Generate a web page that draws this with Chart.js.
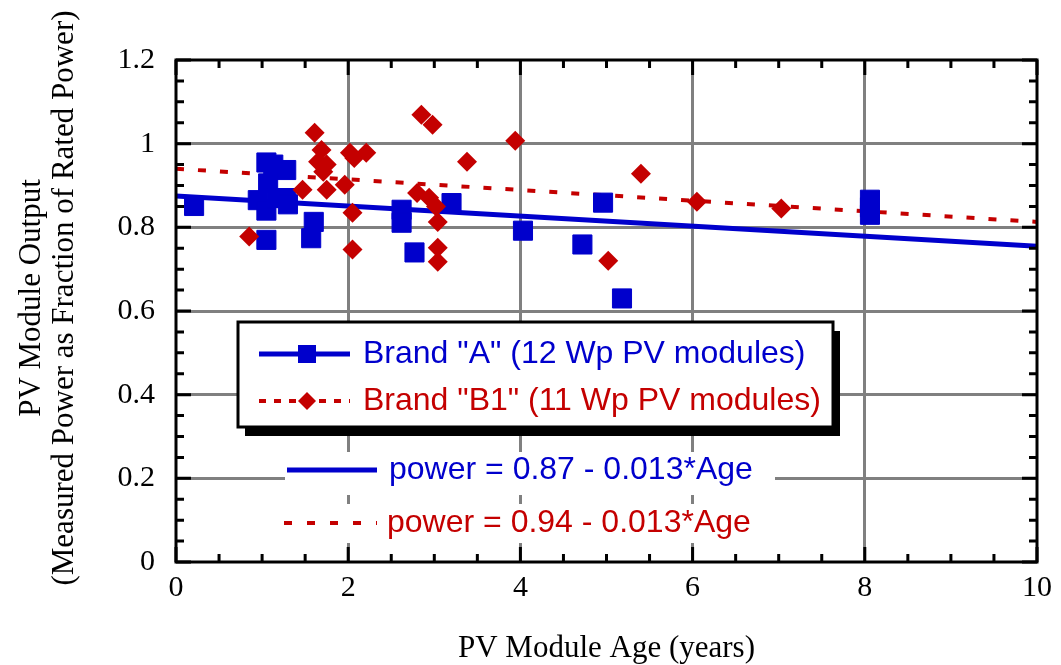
<!DOCTYPE html>
<html>
<head>
<meta charset="utf-8">
<script src="https://cdn.jsdelivr.net/npm/chart.js@4.4.0/dist/chart.umd.min.js"></script>
<style>
  html, body { margin: 0; padding: 0; background: #fff; }
  canvas { display: block; }
</style>
</head>
<body>
<canvas id="ageChart" width="1061" height="665"></canvas>
<script>
// Brand "A" measurements (age in years, output fraction)
const ageA = [0.21, 0.95, 1.05, 1.13, 1.28, 1.07, 1.05, 1.17, 1.28, 1.3, 1.05, 1.6, 1.57,
              2.62, 2.62, 2.77, 3.2, 4.03, 4.72, 4.96, 5.18, 8.06, 8.06, 8.06];
const powerA = [0.851, 0.865, 0.955, 0.95, 0.937, 0.905, 0.84, 0.87, 0.87, 0.855, 0.77, 0.813, 0.774,
                0.842, 0.811, 0.74, 0.858, 0.792, 0.759, 0.859, 0.63, 0.866, 0.848, 0.83];

// Brand "B1" measurements
const ageB1 = [0.85, 1.47, 1.61, 1.69, 1.65, 1.75, 1.71, 1.75, 1.96, 2.02, 2.07, 2.21, 2.05, 2.05,
               2.85, 2.98, 2.8, 2.94, 3.02, 3.04, 3.04, 3.04, 3.38, 3.94, 5.02, 5.4, 6.05, 7.03];
const powerB1 = [0.778, 0.89, 1.026, 0.985, 0.957, 0.95, 0.933, 0.89, 0.902, 0.978, 0.966, 0.978, 0.835, 0.747,
                 1.069, 1.045, 0.882, 0.871, 0.85, 0.813, 0.751, 0.718, 0.957, 1.007, 0.72, 0.928, 0.861, 0.845];

// regression lines (end points)
const fitAge = [0, 10];
const fitA = [0.875, 0.755];
const fitB1 = [0.94, 0.813];

const legendLabels = ['Brand "A" (12 Wp PV modules)', 'Brand "B1" (11 Wp PV modules)'];
const fitLabels = ['power = 0.87 - 0.013*Age', 'power = 0.94 - 0.013*Age'];
const yTitle = ['PV Module Output', '(Measured Power as Fraction of Rated Power)'];
const xTitle = 'PV Module Age (years)';

const BLUE = '#0000cc';
const RED = '#c40000';
const GRID = '#808080';

function toPoints(xs, ys) {
    return xs.map((x, i) => ({ x: x, y: ys[i] }));
}

// frame with inward ticks
const frameTicks = {
    id: 'frameTicks',
    afterDatasetsDraw(chart) {
        const { ctx, chartArea: a, scales: { x, y } } = chart;
        ctx.save();
        ctx.strokeStyle = '#000';
        ctx.lineWidth = 3;
        ctx.beginPath();
        for (let k = 0; k <= 20; k++) {
            const px = x.getPixelForValue(k * 0.5);
            const len = k % 4 === 0 ? 15 : 8;
            ctx.moveTo(px, a.bottom); ctx.lineTo(px, a.bottom - len);
            ctx.moveTo(px, a.top); ctx.lineTo(px, a.top + len);
        }
        for (let k = 0; k <= 24; k++) {
            const py = y.getPixelForValue(k * 0.05);
            const len = k % 4 === 0 ? 15 : 8;
            ctx.moveTo(a.left, py); ctx.lineTo(a.left + len, py);
            ctx.moveTo(a.right, py); ctx.lineTo(a.right - len, py);
        }
        ctx.stroke();
        ctx.strokeRect(a.left, a.top, a.right - a.left, a.bottom - a.top);
        ctx.restore();
    }
};

// legend box, fit equations and y title
const annotations = {
    id: 'annotations',
    afterDraw(chart) {
        const ctx = chart.ctx;
        ctx.save();

        // legend box with shadow
        const bx = 238, by = 322, bw = 595, bh = 105;
        ctx.fillStyle = '#000';
        ctx.fillRect(bx + 7, by + 9, bw, bh);
        ctx.fillStyle = '#fff';
        ctx.fillRect(bx, by, bw, bh);
        ctx.strokeStyle = '#000';
        ctx.lineWidth = 3;
        ctx.strokeRect(bx, by, bw, bh);

        ctx.font = '32px "Liberation Sans", Arial, sans-serif';
        ctx.textBaseline = 'middle';
        ctx.textAlign = 'left';

        // row 1
        ctx.strokeStyle = BLUE;
        ctx.lineWidth = 5;
        ctx.beginPath(); ctx.moveTo(259, 354); ctx.lineTo(350, 354); ctx.stroke();
        ctx.fillStyle = BLUE;
        ctx.fillRect(298, 345, 18, 18);
        ctx.fillText(legendLabels[0], 363, 354);

        // row 2
        ctx.strokeStyle = RED;
        ctx.lineWidth = 4;
        ctx.setLineDash([7, 8]);
        ctx.beginPath(); ctx.moveTo(259, 401); ctx.lineTo(350, 401); ctx.stroke();
        ctx.setLineDash([]);
        ctx.fillStyle = RED;
        ctx.beginPath();
        ctx.moveTo(307, 392); ctx.lineTo(316, 401); ctx.lineTo(307, 410); ctx.lineTo(298, 401);
        ctx.closePath(); ctx.fill();
        ctx.fillText(legendLabels[1], 363, 401);

        // equations
        ctx.font = '32px "Liberation Sans", Arial, sans-serif';
        ctx.fillStyle = '#fff';
        ctx.fillRect(285, 452, 490, 43);
        ctx.fillRect(281, 504, 494, 39);

        ctx.strokeStyle = BLUE;
        ctx.lineWidth = 5;
        ctx.beginPath(); ctx.moveTo(287, 470); ctx.lineTo(377, 470); ctx.stroke();
        ctx.fillStyle = BLUE;
        ctx.fillText(fitLabels[0], 389, 470);

        ctx.strokeStyle = RED;
        ctx.lineWidth = 4;
        ctx.setLineDash([8, 15]);
        ctx.beginPath(); ctx.moveTo(284, 523); ctx.lineTo(377, 523); ctx.stroke();
        ctx.setLineDash([]);
        ctx.fillStyle = RED;
        ctx.fillText(fitLabels[1], 387, 523);

        // y title, two rotated lines
        ctx.fillStyle = '#000';
        ctx.font = '31px "Liberation Serif", "Times New Roman", serif';
        ctx.textAlign = 'center';
        ctx.translate(0, 298);
        ctx.rotate(-Math.PI / 2);
        ctx.fillText(yTitle[0], 0, 32);
        ctx.fillText(yTitle[1], 0, 65);
        ctx.restore();
    }
};

function gridColor(ctx, max) {
    const v = ctx.tick.value;
    return (v < 1e-6 || v > max - 1e-6) ? 'rgba(0,0,0,0)' : GRID;
}

const ctx = document.getElementById('ageChart').getContext('2d');
new Chart(ctx, {
    type: 'scatter',
    data: {
        datasets: [
            {
                label: 'Brand "B1"',
                data: toPoints(ageB1, powerB1),
                pointStyle: 'rectRot',
                pointRadius: 10,
                backgroundColor: RED,
                borderColor: RED,
                borderWidth: 0,
                order: 0
            },
            {
                label: 'Brand "A"',
                data: toPoints(ageA, powerA),
                pointStyle: 'rect',
                pointRadius: 13.5,
                backgroundColor: BLUE,
                borderColor: BLUE,
                borderWidth: 1,
                order: 1
            },
            {
                label: 'fit A',
                data: toPoints(fitAge, fitA),
                showLine: true,
                pointRadius: 0,
                borderColor: BLUE,
                borderWidth: 5,
                order: 2
            },
            {
                label: 'fit B1',
                data: toPoints(fitAge, fitB1),
                showLine: true,
                pointRadius: 0,
                borderColor: RED,
                borderWidth: 4,
                borderDash: [8, 14],
                order: 3
            }
        ]
    },
    options: {
        responsive: false,
        devicePixelRatio: 1,
        animation: false,
        events: [],
        layout: { padding: { top: 60, right: 24, left: 0, bottom: 0 } },
        plugins: {
            legend: { display: false },
            tooltip: { enabled: false }
        },
        scales: {
            x: {
                type: 'linear',
                min: 0,
                max: 10,
                afterFit: s => { s.height = 103; },
                border: { display: false },
                grid: {
                    color: c => gridColor(c, 10),
                    lineWidth: 3,
                    drawTicks: false
                },
                ticks: {
                    stepSize: 2,
                    padding: 8,
                    color: '#000',
                    font: { family: '"Liberation Serif", "Times New Roman", serif', size: 30 },
                    callback: v => String(v)
                },
                title: {
                    display: true,
                    text: xTitle,
                    color: '#000',
                    padding: { top: 0, bottom: -2 },
                    font: { family: '"Liberation Serif", "Times New Roman", serif', size: 31 }
                }
            },
            y: {
                type: 'linear',
                min: 0,
                max: 1.2,
                afterFit: s => { s.width = 176; },
                border: { display: false },
                grid: {
                    color: c => gridColor(c, 1.2),
                    lineWidth: 3,
                    drawTicks: false
                },
                ticks: {
                    stepSize: 0.2,
                    padding: 21,
                    color: '#000',
                    font: { family: '"Liberation Serif", "Times New Roman", serif', size: 30 },
                    callback: v => String(Math.round(v * 10) / 10)
                }
            }
        }
    },
    plugins: [frameTicks, annotations]
});
</script>
</body>
</html>
